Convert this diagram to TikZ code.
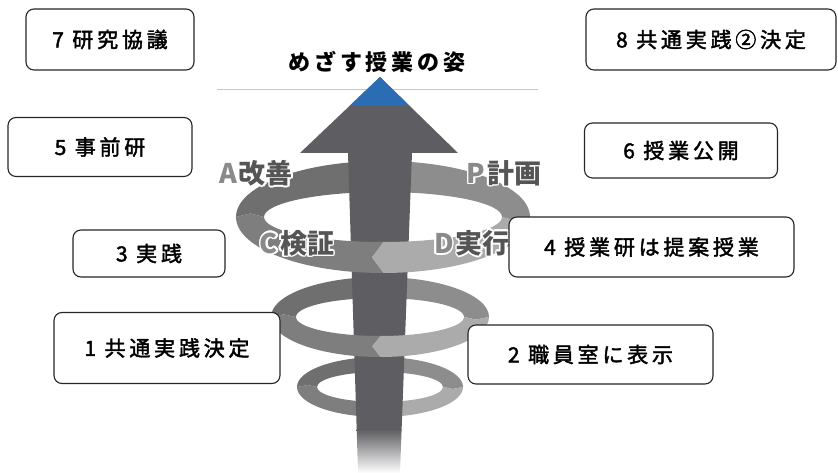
\documentclass[tikz,border=0pt]{standalone}
\usepackage{fontspec}
\usepackage{contour}
\usetikzlibrary{positioning}

\newfontfamily\jpfont{Noto Sans CJK JP}[LetterSpace=18]
\newfontfamily\jpbox{Noto Sans CJK JP}[LetterSpace=18, FakeBold=2]
\newfontfamily\jpsans{Noto Sans CJK JP}

\definecolor{arrowgray}{HTML}{5E5E62}
\definecolor{tipblue}{HTML}{2A6DB5}
\definecolor{ringA}{HTML}{6F6F6F}
\definecolor{ringC}{HTML}{7E7E7E}
\definecolor{ringD}{HTML}{ABABAB}
\definecolor{ringP}{HTML}{8D8D8D}
\definecolor{lettergray}{HTML}{8A8A8A}
\definecolor{labelgray}{HTML}{555555}
\definecolor{rulegray}{HTML}{C8C8C8}

\contourlength{1.6pt}

% ring: centre, outer radii, inner radii
\newcommand\setring[6]{%
  \def\cx{#1}\def\cy{#2}\def\rx{#3}\def\ry{#4}\def\irx{#5}\def\iry{#6}%
  \pgfmathsetmacro\mx{(#3+#5)/2}\pgfmathsetmacro\my{(#4+#6)/2}}
\def\tipd{5}
% one arrow-shaped quarter of the ring, from angle #1 down to #2
\newcommand\ringpart[3]{%
  \fill[#3] ({\cx+\rx*cos(#1)},{\cy+\ry*sin(#1)})
    arc[start angle=#1, end angle=#2, x radius=\rx pt, y radius=\ry pt]
    -- ({\cx+\mx*cos(#2-\tipd)},{\cy+\my*sin(#2-\tipd)})
    -- ({\cx+\irx*cos(#2)},{\cy+\iry*sin(#2)})
    arc[start angle=#2, end angle=#1, x radius=\irx pt, y radius=\iry pt]
    -- ({\cx+\mx*cos(#1-\tipd)},{\cy+\my*sin(#1-\tipd)})
    -- cycle;}
% white-rimmed PDCA label
\newcommand\pdca[2]{%
  \textcolor{lettergray}{\contour{white}{#1}}\hspace{2pt}%
  \textcolor{labelgray}{\contour{white}{#2}}}

\begin{document}
\begin{tikzpicture}[x=1pt, y=1pt,
      box/.style={draw=black!85, line width=1.1pt, rounded corners=8pt,
                  fill=white, inner sep=0pt,
                  font=\jpbox\fontsize{21}{25}\selectfont},
      lbl/.style={inner sep=0pt, font=\jpsans\bfseries\fontsize{27}{30}\selectfont}]
    \useasboundingbox (0,0) rectangle (838,473);

    \draw[rulegray, line width=1pt] (217,383) -- (538,383);

    % rings behind the arrow
    \setring{380}{86}{83}{30}{63}{15}
    \ringpart{180}{90}{ringA}
    \ringpart{90}{0}{ringP}
    \ringpart{360}{270}{ringD}
    \ringpart{270}{180}{ringC}
    \setring{380}{156}{109}{40}{84}{19}
    \ringpart{180}{90}{ringA}
    \ringpart{90}{0}{ringP}
    \setring{383}{256}{147}{56}{119}{25}
    \ringpart{180}{90}{ringA}
    \ringpart{90}{0}{ringP}

    % the arrow
    \fill[arrowgray] (348,320) -- (300,320) -- (380,396) -- (458,320)
      -- (412,320) -- (401.6,43) -- (356.7,43) -- cycle;
    \fill[tipblue] (380,396) -- (350.5,368) -- (408.7,368) -- cycle;
    \shade[top color=arrowgray, bottom color=white]
      (356.7,43.5) -- (401.6,43.5) -- (400,0) -- (358,0) -- cycle;

    % front halves
    \setring{380}{156}{109}{40}{84}{19}
    \ringpart{360}{270}{ringD}
    \ringpart{270}{180}{ringC}
    \setring{383}{256}{147}{56}{119}{25}
    \ringpart{360}{270}{ringD}
    \ringpart{270}{180}{ringC}

    \node[lbl] (kaizen)  at (256,299) {\pdca{A}{改善}};
    \node[lbl] (keikaku) at (504,299) {\pdca{P}{計画}};
    \node[lbl] (kensho)  at (297,229) {\pdca{C}{検証}};
    \node[lbl] (jikko)   at (472,229) {\pdca{D}{実行}};

    \node[font=\jpfont\bfseries\fontsize{22}{26}\selectfont] (goal) at (377,411)
      {めざす授業の姿};

    \node[box, minimum width=168pt, minimum height=61pt] (kyogi)    at (110,433.5) {7 研究協議};
    \node[box, minimum width=250pt, minimum height=61pt] (kettei2)  at (711,433.5) {8 共通実践②決定};
    \node[box, minimum width=184pt, minimum height=59pt] (jizenken) at (100,326)   {5 事前研};
    \node[box, minimum width=193pt, minimum height=55pt] (kokai)    at (681,322.5) {6 授業公開};
    \node[box, minimum width=152pt, minimum height=47pt] (jissen)   at (149,219.5) {3 実践};
    \node[box, minimum width=285pt, minimum height=60pt] (jugyoken) at (651.5,226) {4 授業研は提案授業};
    \node[box, minimum width=226pt, minimum height=71pt] (kettei)   at (167,125)   {1 共通実践決定};
    \node[box, minimum width=245pt, minimum height=59pt] (hyoji)    at (590.5,118.5) {2 職員室に表示};
  \end{tikzpicture}
\end{document}
